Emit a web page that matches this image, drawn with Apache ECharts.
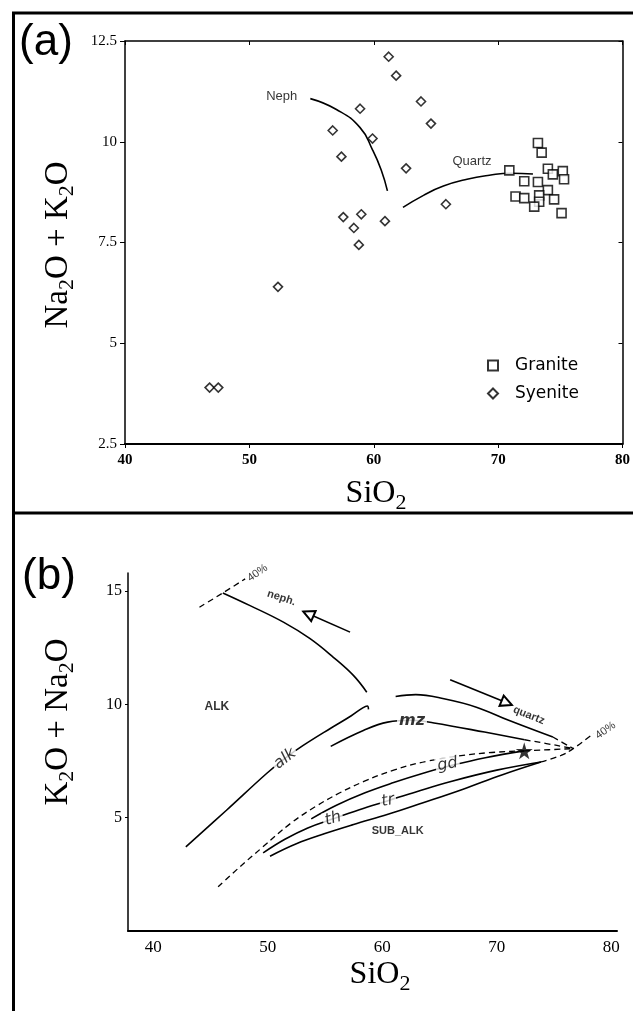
<!DOCTYPE html>
<html>
<head>
<meta charset="utf-8">
<title>SiO2 vs alkalis</title>
<script src="https://cdn.jsdelivr.net/npm/echarts@6.0.0/dist/echarts.min.js"></script>
<style>
  html, body { margin: 0; padding: 0; background: #fff; }
  #chart { width: 633px; height: 1011px; }
</style>
</head>
<body>
<div id="chart"></div>
<script>
// (a) points: [SiO2, Na2O + K2O]
const graniteA = [
  [73.2, 9.97], [73.5, 9.73], [70.9, 9.29], [74.0, 9.33], [74.4, 9.19], [75.2, 9.27],
  [75.3, 9.07], [72.1, 9.02], [73.2, 9.0], [74.0, 8.8], [73.3, 8.67], [71.4, 8.64],
  [72.1, 8.6], [74.5, 8.57], [73.3, 8.51], [72.9, 8.39], [75.1, 8.23]
];
const syeniteA = [
  [61.2, 12.11], [61.8, 11.64], [63.8, 11.0], [58.9, 10.82], [64.6, 10.45], [56.7, 10.28],
  [59.9, 10.08], [57.4, 9.63], [62.6, 9.34], [65.8, 8.45], [57.55, 8.13], [59.0, 8.2],
  [60.9, 8.03], [58.4, 7.86], [58.8, 7.44], [52.3, 6.4], [46.8, 3.9], [47.5, 3.9]
];
const nephA = [[54.9, 11.07], [57.0, 10.8], [58.9, 10.35], [59.9, 9.8], [60.6, 9.3], [61.1, 8.78]];
const quartzA = [[62.35, 8.37], [64.0, 8.67], [65.6, 8.9], [67.5, 9.07], [69.3, 9.17], [71.0, 9.22], [72.8, 9.2]];
const textA = [[52.6, 11.13, 'Neph'], [67.9, 9.52, 'Quartz']];

// (b) trend lines: [SiO2, K2O + Na2O]
const nephB = [[46.08, 14.92], [48.46, 14.36], [51.37, 13.63], [53.7, 12.9], [55.73, 12.08], [57.48, 11.28], [58.65, 10.54]];
const neph40B = [[44.04, 14.29], [46.08, 14.92], [48.03, 15.54]];
const alkB = [[42.85, 3.71], [46.4, 5.33], [49.9, 6.95], [51.5, 7.62], [53.1, 8.19], [55.5, 8.95], [57.3, 9.5], [58.3, 9.85], [58.7, 9.93], [58.8, 9.78]];
const mzB = [[55.5, 8.15], [58.35, 8.85], [60.47, 9.22], [62.58, 9.3], [64.52, 9.18], [68.93, 8.78], [72.44, 8.44]];
const quartzB = [[61.17, 10.35], [62.93, 10.43], [65.39, 10.25], [68.22, 9.88], [71.04, 9.3], [74.9, 8.56]];
const gdB = [[53.8, 4.95], [56.0, 5.55], [58.5, 6.1], [61.0, 6.55], [63.5, 6.95], [66.0, 7.3], [69.0, 7.65], [72.4, 7.95]];
const thB = [[49.6, 3.45], [51.5, 4.05], [53.5, 4.55], [55.7, 4.95], [58.0, 5.35], [60.5, 5.75], [63.0, 6.15], [66.0, 6.6], [70.0, 7.1], [73.86, 7.46]];
const trB = [[50.2, 3.3], [52.5, 3.85], [55.0, 4.3], [57.5, 4.7], [60.5, 5.15], [63.5, 5.65], [67.0, 6.25], [70.5, 6.9], [73.86, 7.46]];
// dashed lines
const boundaryB = [[45.67, 1.95], [47.5, 2.8], [49.55, 3.7], [52.0, 4.75], [54.2, 5.5], [56.3, 6.1], [58.4, 6.6], [61.0, 7.1], [64.0, 7.5], [68.2, 7.82], [72.4, 7.95]];
const quartz40B = [[73.86, 7.46], [75.62, 7.75], [76.68, 8.05], [78.44, 8.71]];
const mzTailB = [[72.44, 8.44], [75.25, 8.19], [76.68, 8.05]];
const quartzTailB = [[74.9, 8.56], [76.68, 8.05]];
const starTailB = [[72.4, 7.95], [76.68, 8.05]];
const arrowsB = [
  [[57.19, 13.19], [53.55, 14.0]],
  [[65.93, 11.09], [70.87, 10.07]]
];
const starB = [[72.4, 7.95]];
const textB = [
  [51.2, 14.7, 'neph.'], [45.56, 9.88, 'ALK'], [51.5, 7.6, 'alk'], [62.6, 9.28, 'mz'],
  [72.8, 9.52, 'quartz'], [65.7, 7.35, 'gd'], [55.7, 4.95, 'th'], [60.5, 5.75, 'tr'],
  [61.35, 4.4, 'SUB_ALK'], [49.1, 15.8, '40%'], [79.5, 8.85, '40%']
];

const black = '#000';
const serif = 'Liberation Serif';
const sans = 'Liberation Sans';

const textStyleB = {
  'neph.': { rotate: -18, fontSize: 11, fontWeight: 'bold', fontFamily: sans },
  'ALK': { fontSize: 12, fontWeight: 'bold', fontFamily: sans },
  'alk': { rotate: 38, fontSize: 16, fontStyle: 'italic', fontFamily: 'DejaVu Sans', backgroundColor: '#fff' },
  'mz': { fontSize: 16, fontStyle: 'italic', fontWeight: 'bold', fontFamily: 'DejaVu Sans', backgroundColor: '#fff' },
  'quartz': { rotate: -22, fontSize: 11, fontWeight: 'bold', fontFamily: sans },
  'gd': { rotate: 10, fontSize: 16, fontStyle: 'italic', fontFamily: 'DejaVu Sans', backgroundColor: '#fff' },
  'th': { rotate: 15, fontSize: 16, fontStyle: 'italic', fontFamily: 'DejaVu Sans', backgroundColor: '#fff' },
  'tr': { rotate: 10, fontSize: 16, fontStyle: 'italic', fontFamily: 'DejaVu Sans', backgroundColor: '#fff' },
  'SUB_ALK': { fontSize: 11, fontWeight: 'bold', fontFamily: sans }
};

const chart = echarts.init(document.getElementById('chart'));

function curve(data, dashed) {
  return {
    type: 'line', xAxisIndex: 1, yAxisIndex: 1, data: data, smooth: 0.4,
    symbol: 'none', silent: true, z: 2,
    lineStyle: { color: black, width: dashed ? 1.3 : 1.6, type: dashed ? [6, 4] : 'solid' }
  };
}

function subText(parts, size) {
  return {
    text: parts,
    rich: {
      t: { fontFamily: serif, fontSize: size, lineHeight: size + 8, fill: black },
      s: { fontFamily: serif, fontSize: Math.round(size * 0.68), lineHeight: size * 0.68, verticalAlign: 'bottom', fill: black }
    },
    align: 'center', verticalAlign: 'middle'
  };
}

const frameLine = (x1, y1, x2, y2, w) => ({
  type: 'line', shape: { x1, y1, x2, y2 }, style: { stroke: black, lineWidth: w }, silent: true
});

chart.setOption({
  backgroundColor: '#fff',
  animation: false,
  grid: [
    { left: 125, top: 41, width: 499, height: 403 },
    { left: 128, top: 573, width: 489, height: 358 }
  ],
  xAxis: [
    {
      gridIndex: 0, type: 'value', min: 40, max: 80, interval: 10,
      axisLine: { lineStyle: { color: black, width: 2.2 } },
      axisTick: { length: 4, lineStyle: { color: black } },
      axisLabel: { color: black, fontFamily: serif, fontSize: 15, fontWeight: 'bold', margin: 9 },
      splitLine: { show: false }
    },
    {
      gridIndex: 1, type: 'value', min: 37.8, max: 80.5,
      axisLine: { onZero: false, lineStyle: { color: black, width: 2 } },
      axisTick: { show: false },
      axisLabel: { customValues: [40, 50, 60, 70, 80], color: black, fontFamily: serif, fontSize: 17, margin: 8 },
      splitLine: { show: false }
    },
    {
      gridIndex: 0, type: 'value', position: 'top', min: 40, max: 80, interval: 10,
      axisLine: { lineStyle: { color: black, width: 1.5 } },
      axisTick: { inside: true, length: 4, lineStyle: { color: black } },
      axisLabel: { show: false }, splitLine: { show: false }
    }
  ],
  yAxis: [
    {
      gridIndex: 0, type: 'value', min: 2.5, max: 12.5, interval: 2.5,
      axisLine: { show: true, lineStyle: { color: black, width: 1.5 } },
      axisTick: { show: true, length: 5, lineStyle: { color: black } },
      axisLabel: { color: black, fontFamily: serif, fontSize: 15, margin: 8 },
      splitLine: { show: false }
    },
    {
      gridIndex: 1, type: 'value', min: 0, max: 15.8,
      axisLine: { show: true, onZero: false, lineStyle: { color: black, width: 1.5 } },
      axisTick: { show: true, customValues: [5, 10, 15], length: 3, lineStyle: { color: black } },
      axisLabel: { customValues: [5, 10, 15], color: black, fontFamily: serif, fontSize: 16, margin: 6 },
      splitLine: { show: false }
    },
    {
      gridIndex: 0, type: 'value', position: 'right', min: 2.5, max: 12.5, interval: 2.5,
      axisLine: { show: true, lineStyle: { color: black, width: 1.5 } },
      axisTick: { show: true, inside: true, length: 4, lineStyle: { color: black } },
      axisLabel: { show: false }, splitLine: { show: false }
    }
  ],
  legend: {
    data: ['Granite', 'Syenite'], orient: 'vertical', left: 482, top: 352,
    itemWidth: 10, itemHeight: 10, itemGap: 11, selectedMode: false,
    textStyle: { color: black, fontFamily: 'DejaVu Sans', fontSize: 17, padding: [0, 0, 0, 12] }
  },
  graphic: [
    frameLine(12, 13, 633, 13, 3),
    frameLine(13.5, 12, 13.5, 1011, 3),
    frameLine(12, 513, 633, 513, 3),
    { type: 'text', x: 46, y: 43, style: { text: '(a)', font: '44px "Liberation Sans"', fill: black, align: 'center', verticalAlign: 'middle' } },
    { type: 'text', x: 49, y: 577, style: { text: '(b)', font: '44px "Liberation Sans"', fill: black, align: 'center', verticalAlign: 'middle' } },
    { type: 'text', x: 58, y: 245, rotation: Math.PI / 2, style: subText('{t|Na}{s|2}{t|O + K}{s|2}{t|O}', 33) },
    { type: 'text', x: 376, y: 494, style: subText('{t|SiO}{s|2}', 32) },
    { type: 'text', x: 58, y: 722, rotation: Math.PI / 2, style: subText('{t|K}{s|2}{t|O + Na}{s|2}{t|O}', 33) },
    { type: 'text', x: 380, y: 975, style: subText('{t|SiO}{s|2}', 32) }
  ],
  series: [
    {
      type: 'line', name: 'Neph curve', xAxisIndex: 0, yAxisIndex: 0, data: nephA, smooth: 0.5,
      symbol: 'none', silent: true, lineStyle: { color: black, width: 1.6 }
    },
    {
      type: 'line', name: 'Quartz curve', xAxisIndex: 0, yAxisIndex: 0, data: quartzA, smooth: 0.5,
      symbol: 'none', silent: true, lineStyle: { color: black, width: 1.6 }
    },
    {
      type: 'scatter', name: 'Granite', xAxisIndex: 0, yAxisIndex: 0, data: graniteA,
      symbol: 'rect', symbolSize: 9, z: 3,
      itemStyle: { color: '#fff', borderColor: black, borderWidth: 1.6 }
    },
    {
      type: 'scatter', name: 'Syenite', xAxisIndex: 0, yAxisIndex: 0, data: syeniteA,
      symbol: 'diamond', symbolSize: 9, z: 3,
      itemStyle: { color: '#fff', borderColor: black, borderWidth: 1.6 }
    },
    {
      type: 'scatter', name: 'text a', xAxisIndex: 0, yAxisIndex: 0, silent: true,
      symbolSize: 1, itemStyle: { color: 'rgba(0,0,0,0)' },
      data: textA.map(d => ({ value: [d[0], d[1]], label: { formatter: d[2] } })),
      label: { show: true, position: 'inside', color: black, fontFamily: sans, fontSize: 13 }
    },
    curve(nephB), curve(alkB), curve(mzB), curve(quartzB), curve(gdB), curve(thB), curve(trB),
    curve(neph40B, true), curve(boundaryB, true), curve(quartz40B, true),
    curve(mzTailB, true), curve(quartzTailB, true), curve(starTailB, true),
    {
      type: 'lines', coordinateSystem: 'cartesian2d', xAxisIndex: 1, yAxisIndex: 1, silent: true,
      symbol: ['none', 'emptyTriangle'], symbolSize: [9, 11], z: 3,
      lineStyle: { color: black, width: 1.6, opacity: 1 },
      data: arrowsB.map(c => ({ coords: c }))
    },
    {
      type: 'scatter', name: 'star', xAxisIndex: 1, yAxisIndex: 1, data: starB, silent: true, z: 4,
      symbol: 'path://M50,0 L61,35 L98,35 L68,57 L79,91 L50,70 L21,91 L32,57 L2,35 L39,35 Z',
      symbolSize: 17, itemStyle: { color: black }
    },
    {
      type: 'scatter', name: 'text b', xAxisIndex: 1, yAxisIndex: 1, silent: true, z: 5,
      symbolSize: 1, itemStyle: { color: 'rgba(0,0,0,0)' },
      data: textB.map(d => ({
        value: [d[0], d[1]],
        label: Object.assign({ formatter: d[2] }, textStyleB[d[2]] || { fontSize: 11, fontFamily: sans, rotate: 35 })
      })),
      label: { show: true, position: 'inside', color: black, padding: [0, 2] }
    }
  ]
});
</script>
</body>
</html>
